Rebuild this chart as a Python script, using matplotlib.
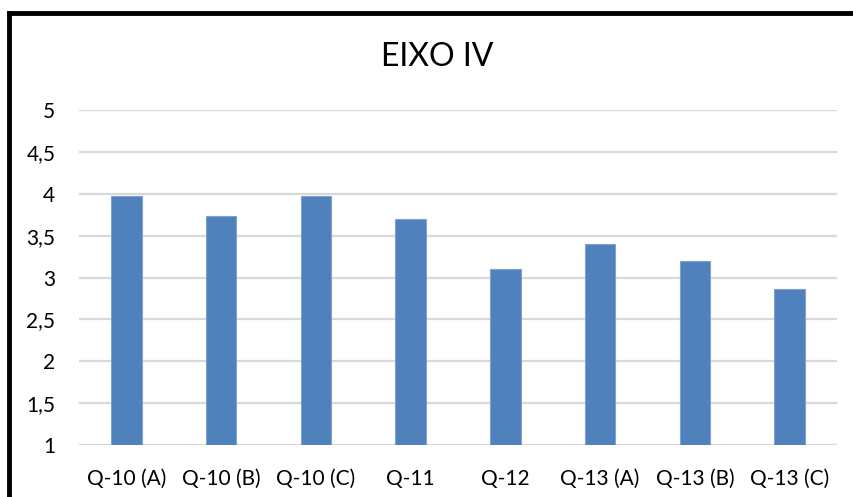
import matplotlib
matplotlib.use("Agg")
import matplotlib.pyplot as plt
from matplotlib.lines import Line2D

categories = ["Q-10 (A)", "Q-10 (B)", "Q-10 (C)", "Q-11", "Q-12", "Q-13 (A)", "Q-13 (B)", "Q-13 (C)"]
values = [3.97, 3.73, 3.97, 3.70, 3.10, 3.40, 3.20, 2.86]
yticks = [1, 1.5, 2, 2.5, 3, 3.5, 4, 4.5, 5]
ytick_labels = ["1", "1,5", "2", "2,5", "3", "3,5", "4", "4,5", "5"]
title = "EIXO IV"

plt.rcParams['font.family'] = ['Lato', 'DejaVu Sans']

W, H = 854, 497
fig = plt.figure(figsize=(W / 100, H / 100), dpi=100)
ax = fig.add_axes([79 / W, (H - 445) / H, (837 - 79) / W, (445 - 110) / H])

x = list(range(len(categories)))
ax.bar(x, [v - 1 for v in values], bottom=1, width=0.32, color="#4F81BD",
       edgecolor="#7FA3D1", linewidth=0.8, zorder=3)
ax.set_xlim(-0.5, len(categories) - 0.5)
ax.set_ylim(1, 5)
ax.set_yticks(yticks)
ax.set_yticklabels(ytick_labels)
ax.set_xticks(x)
ax.set_xticklabels(categories)
ax.yaxis.grid(True, color="#D9D9D9", linewidth=1.6, zorder=0)
ax.set_axisbelow(True)
for s in ax.spines.values():
    s.set_visible(False)
ax.tick_params(axis="both", length=0, labelsize=15, colors="#000000")
ax.tick_params(axis="y", pad=17)
ax.tick_params(axis="x", pad=17)

fig.text(437.5 / W, 1 - 57 / H, title, ha="center", va="center", fontsize=23, color="#000000")

# black frame on left and top
fig.add_artist(Line2D([9 / W, 9 / W], [0, 1 - 12.5 / H], color="black", linewidth=3.5,
                      transform=fig.transFigure, solid_capstyle="projecting"))
fig.add_artist(Line2D([9 / W, 1], [1 - 12.5 / H, 1 - 12.5 / H], color="black", linewidth=3.5,
                      transform=fig.transFigure, solid_capstyle="projecting"))

fig.savefig("out.png", dpi=100)
